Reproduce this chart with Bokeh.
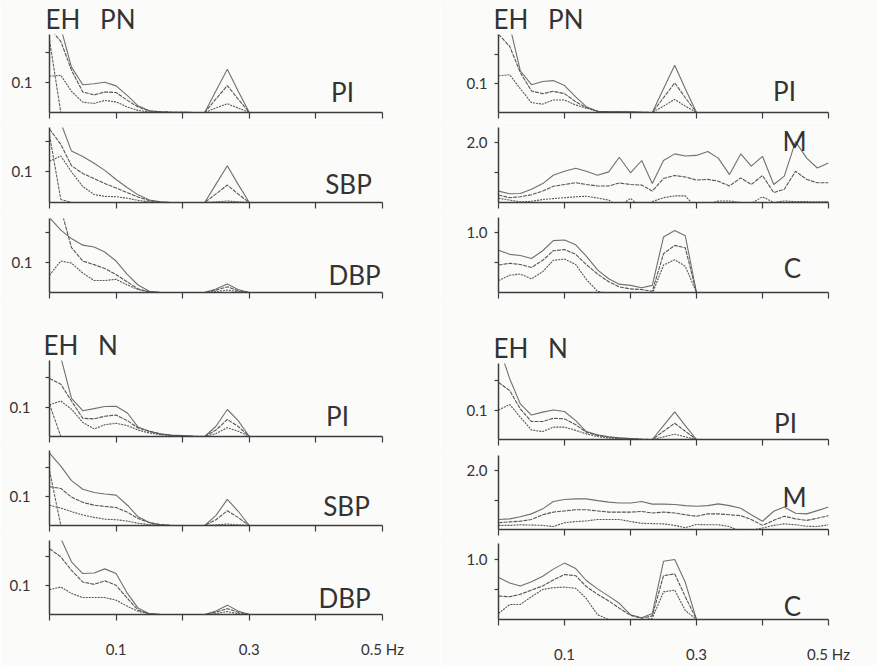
from bokeh.plotting import figure
from bokeh.models import FixedTicker, Label, Range1d, Title
from bokeh.layouts import column, row
from bokeh.embed import file_html
from bokeh.resources import INLINE

# ---------------- data (frequency grid in Hz) ----------------
freq_hz = [0.000, 0.017, 0.033, 0.050, 0.067, 0.083, 0.100, 0.117, 0.133, 0.150,
           0.167, 0.183, 0.200, 0.217, 0.233, 0.250, 0.267, 0.283, 0.300, 0.317,
           0.333, 0.350, 0.367, 0.383, 0.400, 0.417, 0.433, 0.450, 0.467, 0.483, 0.500]
x_labeled_ticks = [0.1, 0.3, 0.5]
x_tick_labels = ["0.1", "0.3", "0.5 Hz"]
x_plain_ticks = [0.0, 0.2, 0.4]
group_titles = ["EH \u2002PN", "EH \u2002N"]

# EH PN, left column
pn_pi_hi = [0.40, 0.28, 0.150, 0.092, 0.095, 0.100, 0.088, 0.056, 0.022, 0.006,
            0.002, 0.001, 0.001, 0.0, 0.0, 0.072, 0.143, 0.072, 0.0]
pn_pi_mean = [0.28, 0.235, 0.140, 0.068, 0.058, 0.068, 0.066, 0.040, 0.018, 0.005,
              0.002, 0.001, 0.001, 0.0, 0.0, 0.045, 0.089, 0.045, 0.0]
pn_pi_lo = [0.120, 0.123, 0.070, 0.034, 0.030, 0.040, 0.035, 0.018, 0.007, 0.002,
            0.001, 0.0, 0.0, 0.0, 0.0, 0.015, 0.029, 0.015, 0.0]
pn_pi_extra = [0.24, 0.0]

pn_sbp_hi = [0.40, 0.26, 0.168, 0.150, 0.128, 0.105, 0.075, 0.048, 0.025, 0.008,
             0.002, 0.0, 0.0, 0.0, 0.0, 0.060, 0.120, 0.060, 0.0]
pn_sbp_mean = [0.24, 0.19, 0.120, 0.095, 0.078, 0.062, 0.047, 0.032, 0.018, 0.006,
               0.001, 0.0, 0.0, 0.0, 0.0, 0.028, 0.057, 0.028, 0.0]
pn_sbp_lo = [0.135, 0.152, 0.100, 0.052, 0.026, 0.020, 0.019, 0.014, 0.007, 0.002,
             0.0, 0.0, 0.0, 0.0, 0.0, 0.002, 0.005, 0.002, 0.0]
pn_sbp_extra = [0.22, 0.01, 0.0]

pn_dbp_hi = [0.25, 0.208, 0.180, 0.158, 0.152, 0.135, 0.105, 0.060, 0.025, 0.004,
             0.0, 0.0, 0.0, 0.0, 0.0, 0.012, 0.028, 0.010, 0.0]
pn_dbp_mean = [0.60, 0.28, 0.150, 0.105, 0.093, 0.080, 0.060, 0.035, 0.012, 0.002,
               0.0, 0.0, 0.0, 0.0, 0.0, 0.008, 0.019, 0.006, 0.0]
pn_dbp_lo = [0.058, 0.105, 0.098, 0.065, 0.040, 0.040, 0.044, 0.025, 0.010, 0.002,
             0.0, 0.0, 0.0, 0.0, 0.0, 0.003, 0.008, 0.003, 0.0]

# EH N, left column
n_pi_hi = [0.38, 0.27, 0.130, 0.088, 0.095, 0.102, 0.103, 0.080, 0.032, 0.017,
           0.009, 0.005, 0.003, 0.001, 0.0, 0.035, 0.092, 0.055, 0.0]
n_pi_mean = [0.198, 0.178, 0.121, 0.062, 0.060, 0.069, 0.073, 0.054, 0.029, 0.018,
             0.008, 0.004, 0.002, 0.001, 0.0, 0.022, 0.058, 0.035, 0.0]
n_pi_lo = [0.108, 0.121, 0.093, 0.048, 0.026, 0.040, 0.045, 0.037, 0.022, 0.012,
           0.006, 0.003, 0.001, 0.0, 0.0, 0.010, 0.030, 0.018, 0.0]
n_pi_extra = [0.11, 0.0]

n_sbp_hi = [0.25, 0.205, 0.155, 0.125, 0.114, 0.109, 0.105, 0.070, 0.030, 0.010,
            0.002, 0.0, 0.0, 0.0, 0.0, 0.035, 0.090, 0.050, 0.0]
n_sbp_mean = [0.134, 0.128, 0.098, 0.080, 0.070, 0.066, 0.062, 0.046, 0.024, 0.010,
              0.003, 0.0, 0.0, 0.0, 0.0, 0.020, 0.051, 0.028, 0.0]
n_sbp_lo = [0.070, 0.060, 0.048, 0.036, 0.028, 0.022, 0.020, 0.015, 0.008, 0.003,
            0.001, 0.0, 0.0, 0.0, 0.0, 0.002, 0.005, 0.002, 0.0]
n_sbp_extra = [0.19, 0.0]

n_dbp_hi = [0.40, 0.26, 0.180, 0.140, 0.142, 0.156, 0.140, 0.072, 0.022, 0.003,
            0.0, 0.0, 0.0, 0.0, 0.0, 0.012, 0.032, 0.012, 0.0]
n_dbp_mean = [0.225, 0.197, 0.151, 0.111, 0.103, 0.115, 0.100, 0.055, 0.015, 0.002,
              0.0, 0.0, 0.0, 0.0, 0.0, 0.008, 0.020, 0.008, 0.0]
n_dbp_lo = [0.085, 0.094, 0.072, 0.058, 0.058, 0.058, 0.049, 0.028, 0.011, 0.002,
            0.0, 0.0, 0.0, 0.0, 0.0, 0.003, 0.010, 0.003, 0.0]

# EH PN, right column
pn_pi2_hi = [0.40, 0.30, 0.144, 0.096, 0.107, 0.110, 0.093, 0.054, 0.020, 0.004,
             0.002, 0.002, 0.002, 0.001, 0.0, 0.082, 0.163, 0.082, 0.0]
pn_pi2_mean = [0.27, 0.228, 0.138, 0.074, 0.065, 0.073, 0.065, 0.037, 0.017, 0.004,
               0.002, 0.002, 0.001, 0.001, 0.0, 0.051, 0.102, 0.051, 0.0]
pn_pi2_lo = [0.127, 0.130, 0.082, 0.034, 0.029, 0.043, 0.043, 0.026, 0.015, 0.004,
             0.001, 0.001, 0.001, 0.0, 0.0, 0.022, 0.045, 0.022, 0.0]

pn_m_hi = [0.38, 0.29, 0.30, 0.44, 0.63, 0.91, 1.04, 1.14, 1.04, 0.91,
           1.02, 1.51, 0.99, 1.40, 0.63, 1.40, 1.62, 1.55, 1.57, 1.70,
           1.48, 0.93, 1.62, 1.21, 1.54, 0.60, 0.88, 2.03, 1.48, 1.15, 1.32]
pn_m_mean = [0.25, 0.16, 0.19, 0.26, 0.38, 0.54, 0.60, 0.66, 0.60, 0.55,
             0.55, 0.65, 0.60, 0.58, 0.38, 0.80, 0.90, 0.85, 0.75, 0.77,
             0.71, 0.55, 0.82, 0.60, 0.90, 0.33, 0.44, 1.04, 0.77, 0.66, 0.66]
pn_m_lo = [0.14, 0.08, 0.02, 0.04, 0.10, 0.13, 0.16, 0.19, 0.21, 0.15,
           0.08, -0.14, 0.14, -0.19, 0.03, 0.16, 0.22, 0.22, -0.19, -0.05,
           0.05, 0.05, 0.00, -0.03, 0.19, 0.00, 0.05, 0.03, 0.03, 0.02, 0.03]

pn_c_hi = [0.71, 0.64, 0.62, 0.57, 0.70, 0.87, 0.88, 0.80, 0.61, 0.38,
           0.23, 0.14, 0.12, 0.08, 0.12, 0.93, 1.04, 0.95, 0.0]
pn_c_mean = [0.46, 0.49, 0.47, 0.42, 0.54, 0.70, 0.72, 0.64, 0.47, 0.31,
             0.18, 0.095, 0.06, 0.05, 0.02, 0.65, 0.79, 0.75, 0.0]
pn_c_lo = [0.20, 0.29, 0.31, 0.23, 0.35, 0.54, 0.56, 0.47, 0.22, 0.02,
           -0.02, -0.03, -0.03, -0.03, -0.02, 0.46, 0.55, 0.44, 0.0]

# EH N, right column
n_pi2_hi = [0.32, 0.206, 0.121, 0.083, 0.093, 0.100, 0.095, 0.064, 0.027, 0.016,
            0.009, 0.006, 0.003, 0.001, 0.0, 0.047, 0.094, 0.047, 0.0]
n_pi2_mean = [0.194, 0.166, 0.104, 0.061, 0.061, 0.072, 0.070, 0.050, 0.025, 0.014,
              0.008, 0.005, 0.003, 0.001, 0.0, 0.028, 0.055, 0.028, 0.0]
n_pi2_lo = [0.100, 0.119, 0.076, 0.032, 0.027, 0.042, 0.042, 0.031, 0.019, 0.010,
            0.005, 0.003, 0.001, 0.0, 0.0, 0.009, 0.018, 0.009, 0.0]

n_m_hi = [0.34, 0.36, 0.43, 0.53, 0.70, 0.95, 1.02, 1.04, 1.04, 0.98,
          0.93, 0.90, 0.90, 0.95, 0.86, 0.86, 0.85, 0.81, 0.79, 0.81,
          0.87, 0.81, 0.72, 0.50, 0.28, 0.62, 0.76, 0.55, 0.53, 0.64, 0.76]
n_m_mean = [0.23, 0.26, 0.28, 0.34, 0.50, 0.59, 0.63, 0.67, 0.67, 0.63,
            0.59, 0.59, 0.59, 0.61, 0.56, 0.59, 0.56, 0.50, 0.45, 0.53,
            0.53, 0.50, 0.47, 0.34, 0.14, 0.31, 0.45, 0.36, 0.31, 0.38, 0.47]
n_m_lo = [0.14, 0.14, 0.16, 0.15, 0.14, 0.10, 0.23, 0.27, 0.29, 0.34,
          0.34, 0.34, 0.27, 0.21, 0.20, 0.19, 0.14, 0.06, 0.17, 0.16,
          0.16, 0.10, -0.07, -0.03, 0.05, 0.14, 0.19, 0.16, 0.11, 0.10, 0.16]

n_c_hi = [0.70, 0.61, 0.56, 0.63, 0.72, 0.84, 0.94, 0.85, 0.65, 0.51,
          0.39, 0.27, 0.08, 0.03, 0.10, 0.97, 1.00, 0.62, 0.0]
n_c_mean = [0.39, 0.38, 0.42, 0.49, 0.56, 0.66, 0.75, 0.73, 0.55, 0.42,
            0.31, 0.19, 0.07, 0.02, 0.06, 0.73, 0.76, 0.38, 0.0]
n_c_lo = [0.10, 0.25, 0.25, 0.38, 0.50, 0.53, 0.54, 0.52, 0.35, 0.08,
          0.0, -0.01, -0.01, -0.01, 0.02, 0.46, 0.49, 0.15, 0.0]

# ---------------- styling ----------------
FONT = "Lato"
INK = "#333333"
AXIS = "#3d3d3d"
PAPER = "#fbfbf9"
STYLE_HI = dict(line_color="#707070", line_width=1.1, line_dash="solid")
STYLE_MEAN = dict(line_color="#565656", line_width=1.1, line_dash="4 1")
STYLE_LO = dict(line_color="#565656", line_width=1.1, line_dash="2 1")
STYLE_EX = dict(line_color="#606060", line_width=1.1, line_dash="3 1")


def panel(col, fx, fy, ymax, series, label, label_px, ytick, ylab_standoff,
          bottom_labels=False, group_title=None, title_left=None):
    cx0, cw = col
    fl, fr = fx
    gt, ft, fb, gb = fy
    p = figure(width=cw, height=gb - gt,
               x_range=Range1d(0, 0.5), y_range=Range1d(0, ymax),
               output_backend="svg", toolbar_location=None, title=None,
               min_border_left=fl - cx0, min_border_right=cx0 + cw - fr,
               min_border_top=ft - gt, min_border_bottom=gb - fb,
               background_fill_color=PAPER, border_fill_color=PAPER,
               outline_line_color=None)
    p.xgrid.visible = False
    p.ygrid.visible = False

    def to_data(px, py):
        return ((px - fl) / (fr - fl) * 0.5, (fb - py) / (fb - ft) * ymax)

    for arr, st in series:
        p.line(freq_hz[:len(arr)], arr, **st)

    xa = p.xaxis[0]
    if bottom_labels:
        xa.ticker = FixedTicker(ticks=x_labeled_ticks, minor_ticks=x_plain_ticks)
        xa.major_label_overrides = dict(zip(x_labeled_ticks, x_tick_labels))
        xa.major_label_text_font = FONT
        xa.major_label_text_font_size = "15px"
        xa.major_label_text_color = INK
        xa.major_label_standoff = 19
    else:
        xa.ticker = FixedTicker(ticks=[], minor_ticks=x_plain_ticks + x_labeled_ticks)
    xa.axis_line_color = AXIS
    xa.axis_line_width = 1.5
    for pre in ("major", "minor"):
        setattr(xa, pre + "_tick_line_color", AXIS)
        setattr(xa, pre + "_tick_line_width", 1.2)
        setattr(xa, pre + "_tick_out", 6)
        setattr(xa, pre + "_tick_in", 0)

    ya = p.yaxis[0]
    (tick_val, tick_txt), blank_val = ytick
    ya.ticker = FixedTicker(ticks=[tick_val], minor_ticks=[blank_val])
    ya.major_label_overrides = {tick_val: tick_txt}
    ya.axis_line_color = AXIS
    ya.axis_line_width = 1.5
    for pre in ("major", "minor"):
        setattr(ya, pre + "_tick_line_color", AXIS)
        setattr(ya, pre + "_tick_line_width", 1.2)
        setattr(ya, pre + "_tick_out", 4)
        setattr(ya, pre + "_tick_in", 0)
    ya.major_label_text_font = FONT
    ya.major_label_text_font_size = "15px"
    ya.major_label_text_color = INK
    ya.major_label_standoff = ylab_standoff

    lx, ly = to_data(*label_px)
    p.add_layout(Label(x=lx, y=ly, text=label, text_font=FONT, text_font_size="26px",
                       text_color=INK, text_align="center", text_baseline="middle"))

    if group_title:
        p.add_layout(Title(text=group_title, text_font=FONT, text_font_size="26px",
                           text_font_style="normal", text_color=INK, align="left",
                           offset=title_left - fl, standoff=0), "above")
    return p


LCOL = (0, 440)
RCOL = (440, 437)
LFX = (49, 382)
RFX = (498, 828)
PI_T = ((0.1, "0.1"), 0.2)
M_T = ((2.0, "2.0"), 1.0)
C_T = ((1.0, "1.0"), 0.5)

L1 = panel(LCOL, LFX, (0, 33, 112, 122), 0.258,
           [(pn_pi_hi, STYLE_HI), (pn_pi_mean, STYLE_MEAN), (pn_pi_lo, STYLE_LO), (pn_pi_extra, STYLE_EX)],
           "PI", (342, 91), PI_T, 13, group_title=group_titles[0], title_left=45)
L2 = panel(LCOL, LFX, (122, 127, 202, 212), 0.245,
           [(pn_sbp_hi, STYLE_HI), (pn_sbp_mean, STYLE_MEAN), (pn_sbp_lo, STYLE_LO), (pn_sbp_extra, STYLE_EX)],
           "SBP", (348, 183), PI_T, 13)
L3 = panel(LCOL, LFX, (212, 218, 292, 302), 0.247,
           [(pn_dbp_hi, STYLE_HI), (pn_dbp_mean, STYLE_MEAN), (pn_dbp_lo, STYLE_LO)],
           "DBP", (354, 274), PI_T, 13)
L4 = panel(LCOL, LFX, (302, 360, 436, 446), 0.259,
           [(n_pi_hi, STYLE_HI), (n_pi_mean, STYLE_MEAN), (n_pi_lo, STYLE_LO), (n_pi_extra, STYLE_EX)],
           "PI", (337, 415), PI_T, 15, group_title=group_titles[1], title_left=43)
L5 = panel(LCOL, LFX, (446, 450, 525, 535), 0.259,
           [(n_sbp_hi, STYLE_HI), (n_sbp_mean, STYLE_MEAN), (n_sbp_lo, STYLE_LO), (n_sbp_extra, STYLE_EX)],
           "SBP", (346, 505), PI_T, 15)
L6 = panel(LCOL, LFX, (535, 540, 614, 665), 0.253,
           [(n_dbp_hi, STYLE_HI), (n_dbp_mean, STYLE_MEAN), (n_dbp_lo, STYLE_LO)],
           "DBP", (344, 597), PI_T, 15, bottom_labels=True)

R1 = panel(RCOL, RFX, (0, 33, 112, 122), 0.269,
           [(pn_pi2_hi, STYLE_HI), (pn_pi2_mean, STYLE_MEAN), (pn_pi2_lo, STYLE_LO)],
           "PI", (784, 90), PI_T, 7, group_title=group_titles[0], title_left=493)
R2 = panel(RCOL, RFX, (122, 127, 202, 212), 2.5,
           [(pn_m_hi, STYLE_HI), (pn_m_mean, STYLE_MEAN), (pn_m_lo, STYLE_LO)],
           "M", (794, 140), M_T, 7)
R3 = panel(RCOL, RFX, (212, 217, 292, 302), 1.258,
           [(pn_c_hi, STYLE_HI), (pn_c_mean, STYLE_MEAN), (pn_c_lo, STYLE_LO)],
           "C", (792, 267), C_T, 7)
R4 = panel(RCOL, RFX, (302, 363, 439, 449), 0.258,
           [(n_pi2_hi, STYLE_HI), (n_pi2_mean, STYLE_MEAN), (n_pi2_lo, STYLE_LO)],
           "PI", (785, 422), PI_T, 7, group_title=group_titles[1], title_left=493)
R5 = panel(RCOL, RFX, (449, 455, 529, 539), 2.51,
           [(n_m_hi, STYLE_HI), (n_m_mean, STYLE_MEAN), (n_m_lo, STYLE_LO)],
           "M", (794, 496), M_T, 7)
R6 = panel(RCOL, RFX, (539, 543, 619, 665), 1.267,
           [(n_c_hi, STYLE_HI), (n_c_mean, STYLE_MEAN), (n_c_lo, STYLE_LO)],
           "C", (792, 605), C_T, 7, bottom_labels=True)

layout = row(column(L1, L2, L3, L4, L5, L6, spacing=0),
             column(R1, R2, R3, R4, R5, R6, spacing=0), spacing=0)

open("out.html", "w").write(file_html(layout, INLINE))
